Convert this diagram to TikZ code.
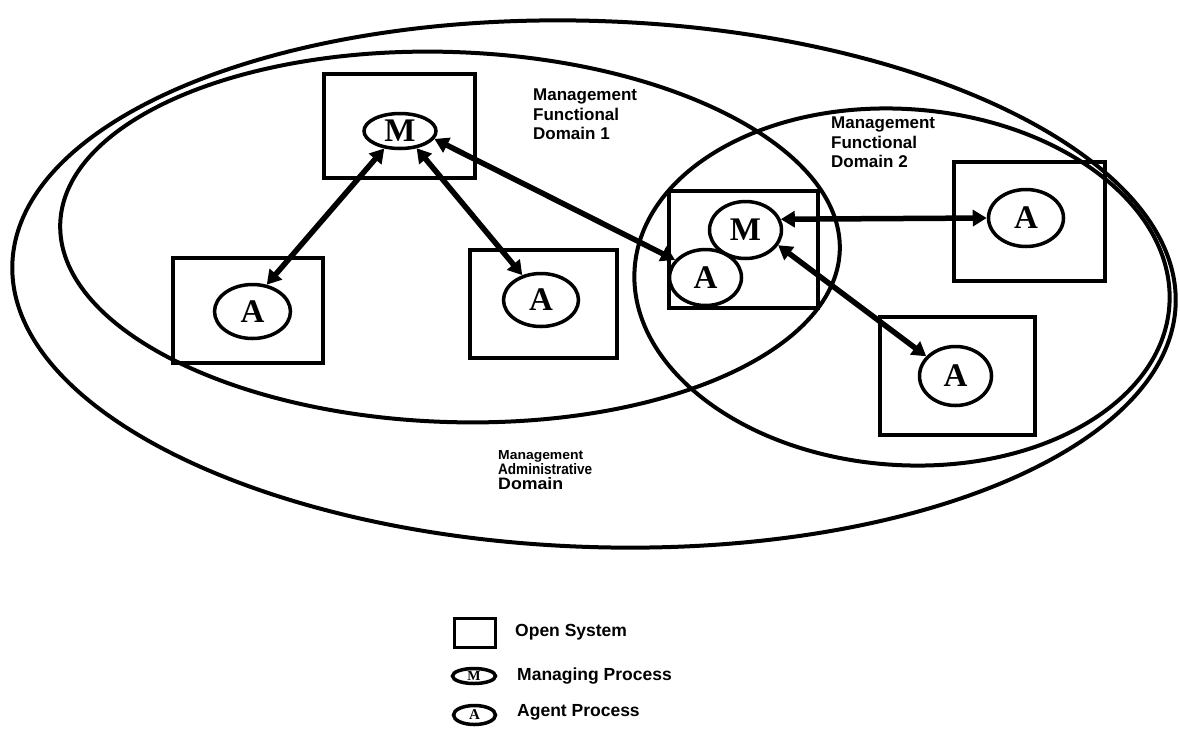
\documentclass[tikz,border=0pt]{standalone}
\usepackage{fontspec}
\setmainfont{Liberation Serif}
\setsansfont{Liberation Sans}
\usetikzlibrary{shapes.geometric,arrows.meta}

\begin{document}
\begin{tikzpicture}[x=1pt,y=-1pt,
  domainline/.style={draw, line width=4pt},
  sysbox/.style={draw, rectangle, line width=4pt, inner sep=0pt},
  proc/.style={draw, ellipse, fill=white, line width=3.5pt, inner sep=0pt,
    font=\bfseries\fontsize{33}{33}\selectfont},
  link/.style={line width=5.5pt,
    {Triangle[length=14pt,width=16pt]}-{Triangle[length=14pt,width=16pt]}},
  lbl/.style={font=\sffamily\bfseries\fontsize{17}{19.5}\selectfont,
    align=left, inner sep=0pt, anchor=north west},
  keytext/.style={font=\sffamily\bfseries\fontsize{17.5}{20}\selectfont,
    inner sep=0pt, anchor=base west},
]
\path[use as bounding box, fill=white] (0,0) rectangle (1180,729);

% domains
\draw[domainline, rotate around={-2:(594,284)}] (594,284) ellipse [x radius=582pt, y radius=263pt];
\draw[domainline, rotate around={-2:(450,237)}] (450,237) ellipse [x radius=390pt, y radius=185pt];
\draw[domainline, rotate around={-4:(902,287)}] (902,287) ellipse [x radius=268pt, y radius=178pt];

% open systems
\node[sysbox, minimum width=151pt, minimum height=104pt] (sysM1) at (399.5,126) {};
\node[sysbox, minimum width=150pt, minimum height=105pt] (sysA1) at (248,310.5) {};
\node[sysbox, minimum width=147pt, minimum height=108pt] (sysA2) at (543.5,304) {};
\node[sysbox, minimum width=149pt, minimum height=117pt] (sysM2) at (743.5,249.5) {};
\node[sysbox, minimum width=151pt, minimum height=119pt] (sysA3) at (1029.5,221.5) {};
\node[sysbox, minimum width=155pt, minimum height=118pt] (sysA4) at (957.5,376) {};

% processes
\node[proc, minimum width=72pt, minimum height=35pt] (mgr1) at (400,131) {M};
\node[proc, minimum width=76pt, minimum height=54pt] (agt1) at (252.5,311.5) {A};
\node[proc, minimum width=75pt, minimum height=53pt] (agt2) at (541,300) {A};
\node[proc, minimum width=72pt, minimum height=56pt] (agtM) at (705.5,277.5) {A};
\node[proc, minimum width=72pt, minimum height=57pt] (mgr2) at (745.5,230) {M};
\node[proc, minimum width=75pt, minimum height=57pt] (agt3) at (1026,218) {A};
\node[proc, minimum width=72pt, minimum height=59pt] (agt4) at (955.5,376) {A};

% management associations
\draw[link] (mgr1.228) -- (agt1.62);
\draw[link] (mgr1.314) -- (agt2.127);
\draw[link] (mgr1.-13) -- (agtM.150);
\draw[link] (mgr2.17) -- (agt3.180);
\draw[link] (mgr2.-25) -- (agt4.146);

% domain labels
\node[lbl] (fd1) at (533,89) {Management\\Functional\\Domain 1};
\node[lbl] (fd2) at (831,117) {Management\\Functional\\Domain 2};
\node[anchor=base west, inner sep=0pt] (adm1) at (498,459)
  {\resizebox{85pt}{9pt}{\sffamily\bfseries Management}};
\node[anchor=base west, inner sep=0pt] (adm2) at (498,474)
  {\resizebox{94pt}{11pt}{\sffamily\bfseries Administrative}};
\node[anchor=base west, inner sep=0pt] (adm3) at (498,489)
  {\resizebox{65pt}{12pt}{\sffamily\bfseries Domain}};

% key
\node[sysbox, line width=3.5pt, minimum width=41pt, minimum height=29pt] (keybox) at (475,633) {};
\node[proc, minimum width=43pt, minimum height=15pt, font=\bfseries\fontsize{14}{14}\selectfont] (keym) at (474,676) {M};
\node[proc, minimum width=42pt, minimum height=19pt, font=\bfseries\fontsize{15}{15}\selectfont] (keya) at (474.5,715) {A};
\node[keytext] (keyt1) at (515,636) {Open System};
\node[keytext] (keyt2) at (517,680) {Managing Process};
\node[keytext] (keyt3) at (517,716) {Agent Process};
\end{tikzpicture}
\end{document}
